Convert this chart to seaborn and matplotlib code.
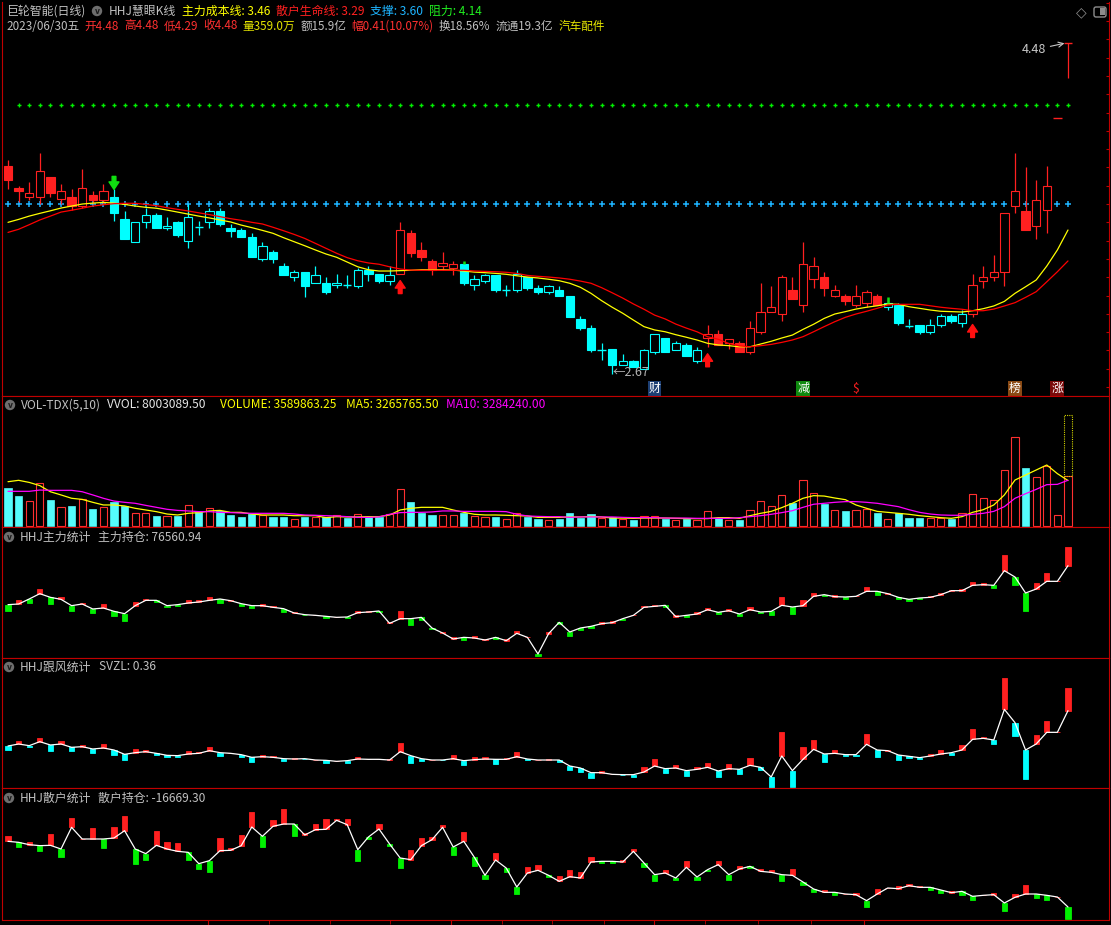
import numpy as np
import seaborn as sns
import matplotlib.pyplot as plt
from matplotlib.patches import Circle, FancyBboxPatch, Rectangle

# 巨轮智能 daily, last 101 sessions up to 2023/06/30
opens = [3.81, 3.69, 3.64, 3.64, 3.75, 3.63, 3.64, 3.59, 3.65, 3.62,
         3.64, 3.52, 3.39, 3.50, 3.54, 3.47, 3.50, 3.40, 3.48, 3.50,
         3.56, 3.47, 3.46, 3.42, 3.30, 3.34, 3.26, 3.20, 3.23, 3.17,
         3.17, 3.16, 3.16, 3.15, 3.24, 3.22, 3.18, 3.22, 3.44, 3.35,
         3.29, 3.26, 3.25, 3.27, 3.16, 3.18, 3.21, 3.13, 3.13, 3.20,
         3.14, 3.12, 3.13, 3.10, 2.97, 2.92, 2.80, 2.81, 2.72, 2.74,
         2.70, 2.79, 2.87, 2.80, 2.83, 2.74, 2.87, 2.89, 2.84, 2.84,
         2.79, 2.90, 3.01, 3.00, 3.13, 3.05, 3.19, 3.20, 3.10, 3.10,
         3.05, 3.06, 3.10, 3.04, 3.05, 2.94, 2.94, 2.90, 2.94, 2.99,
         2.95, 3.00, 3.18, 3.20, 3.23, 3.59, 3.56, 3.48, 3.57, 4.07,
         4.48]
highs = [3.84, 3.70, 3.72, 3.88, 3.75, 3.71, 3.68, 3.79, 3.67, 3.71,
         3.68, 3.56, 3.50, 3.58, 3.55, 3.53, 3.51, 3.60, 3.51, 3.58,
         3.58, 3.49, 3.47, 3.44, 3.39, 3.35, 3.28, 3.24, 3.23, 3.26,
         3.20, 3.22, 3.21, 3.25, 3.26, 3.22, 3.26, 3.50, 3.46, 3.39,
         3.30, 3.34, 3.29, 3.28, 3.21, 3.22, 3.21, 3.16, 3.24, 3.20,
         3.16, 3.16, 3.15, 3.10, 2.99, 2.94, 2.84, 2.81, 2.78, 2.75,
         2.81, 2.89, 2.87, 2.85, 2.84, 2.82, 2.94, 2.91, 2.86, 2.85,
         2.96, 3.17, 3.15, 3.21, 3.20, 3.39, 3.31, 3.23, 3.16, 3.11,
         3.16, 3.13, 3.11, 3.08, 3.06, 2.97, 2.94, 2.97, 3.00, 3.00,
         3.02, 3.22, 3.26, 3.32, 3.55, 3.88, 3.80, 3.73, 3.81, 4.07,
         4.48]
lows = [3.68, 3.61, 3.62, 3.60, 3.64, 3.60, 3.57, 3.58, 3.60, 3.60,
        3.51, 3.41, 3.39, 3.47, 3.47, 3.46, 3.42, 3.36, 3.43, 3.47,
        3.48, 3.42, 3.42, 3.31, 3.29, 3.28, 3.21, 3.18, 3.09, 3.17,
        3.11, 3.14, 3.14, 3.14, 3.18, 3.17, 3.16, 3.22, 3.31, 3.29,
        3.21, 3.24, 3.21, 3.16, 3.13, 3.17, 3.12, 3.10, 3.12, 3.13,
        3.11, 3.11, 3.10, 2.98, 2.91, 2.79, 2.75, 2.67, 2.72, 2.71,
        2.70, 2.78, 2.79, 2.80, 2.77, 2.73, 2.82, 2.83, 2.81, 2.79,
        2.78, 2.89, 3.01, 2.96, 3.08, 3.01, 3.14, 3.10, 3.09, 3.05,
        3.04, 3.04, 3.05, 3.02, 2.94, 2.92, 2.89, 2.89, 2.93, 2.95,
        2.93, 2.98, 3.14, 3.18, 3.15, 3.55, 3.46, 3.41, 3.44, 4.07,
        4.29]
closes = [3.73, 3.67, 3.66, 3.78, 3.66, 3.67, 3.59, 3.69, 3.62, 3.67,
          3.55, 3.41, 3.50, 3.54, 3.47, 3.48, 3.43, 3.53, 3.475, 3.56,
          3.49, 3.45, 3.42, 3.31, 3.37, 3.30, 3.21, 3.23, 3.15, 3.21,
          3.12, 3.17, 3.155, 3.24, 3.22, 3.18, 3.21, 3.46, 3.33, 3.31,
          3.24, 3.28, 3.27, 3.17, 3.19, 3.21, 3.13, 3.13, 3.22, 3.14,
          3.12, 3.15, 3.10, 2.98, 2.92, 2.80, 2.80, 2.72, 2.74, 2.71,
          2.80, 2.89, 2.79, 2.84, 2.77, 2.80, 2.89, 2.83, 2.86, 2.79,
          2.92, 3.01, 3.04, 3.20, 3.08, 3.27, 3.26, 3.14, 3.13, 3.07,
          3.10, 3.12, 3.05, 3.06, 2.95, 2.935, 2.90, 2.94, 2.99, 2.96,
          3.00, 3.16, 3.20, 3.23, 3.55, 3.67, 3.46, 3.62, 3.70, 4.07,
          4.48]

# 主力成本线 (yellow) / 散户生命线 (red)
ma_cost = [3.500, 3.516, 3.534, 3.549, 3.563, 3.578, 3.589, 3.600, 3.605, 3.609,
           3.605, 3.598, 3.589, 3.582, 3.577, 3.567, 3.556, 3.545, 3.534, 3.524,
           3.513, 3.502, 3.485, 3.471, 3.456, 3.440, 3.416, 3.394, 3.372, 3.349,
           3.327, 3.309, 3.283, 3.257, 3.241, 3.234, 3.234, 3.236, 3.238, 3.241,
           3.241, 3.241, 3.239, 3.234, 3.228, 3.225, 3.221, 3.216, 3.208, 3.201,
           3.196, 3.189, 3.181, 3.167, 3.145, 3.112, 3.072, 3.036, 3.003, 2.966,
           2.930, 2.912, 2.902, 2.886, 2.872, 2.857, 2.839, 2.830, 2.826, 2.820,
           2.820, 2.835, 2.850, 2.868, 2.884, 2.915, 2.943, 2.975, 2.999, 3.012,
           3.026, 3.036, 3.044, 3.054, 3.052, 3.039, 3.030, 3.021, 3.014, 3.012,
           3.010, 3.017, 3.028, 3.043, 3.068, 3.112, 3.148, 3.185, 3.261, 3.349,
           3.458]
ma_life = [3.445, 3.462, 3.487, 3.513, 3.534, 3.556, 3.566, 3.577, 3.589, 3.596,
           3.602, 3.604, 3.604, 3.598, 3.591, 3.580, 3.571, 3.562, 3.552, 3.542,
           3.531, 3.520, 3.511, 3.500, 3.491, 3.473, 3.454, 3.434, 3.412, 3.385,
           3.358, 3.331, 3.307, 3.290, 3.278, 3.271, 3.257, 3.245, 3.239, 3.238,
           3.238, 3.238, 3.238, 3.238, 3.234, 3.232, 3.230, 3.227, 3.221, 3.210,
           3.205, 3.201, 3.196, 3.189, 3.179, 3.167, 3.143, 3.115, 3.086, 3.054,
           3.025, 2.993, 2.972, 2.944, 2.922, 2.902, 2.875, 2.861, 2.838, 2.825,
           2.820, 2.826, 2.833, 2.844, 2.857, 2.875, 2.902, 2.930, 2.957, 2.981,
           2.999, 3.014, 3.030, 3.048, 3.052, 3.052, 3.052, 3.044, 3.036, 3.030,
           3.025, 3.017, 3.017, 3.026, 3.043, 3.061, 3.090, 3.121, 3.175, 3.230,
           3.289]
support = 3.60
resistance = 4.14
buy_idx = [37, 66, 91]
sell_idx = [10, 43, 83]
event_idx = [61, 75, 80, 95, 99]
event_txt = ['财', '减', '$', '榜', '涨']

# volume, 万股
volume = [272.8, 215.4, 177.1, 306.3, 186.7, 134.0, 143.6, 191.4, 122.0, 138.8,
          174.7, 143.6, 90.9, 90.9, 71.8, 69.4, 71.8, 148.4, 102.9, 126.8,
          110.1, 79.0, 62.2, 86.1, 79.0, 62.2, 64.6, 47.9, 67.0, 67.0,
          62.2, 76.6, 57.4, 86.1, 62.2, 62.2, 83.8, 263.2, 172.3, 95.7,
          79.0, 79.0, 79.0, 90.9, 71.8, 62.2, 67.0, 47.9, 90.9, 67.0,
          52.6, 43.1, 52.6, 93.3, 59.8, 86.1, 55.0, 64.6, 47.9, 43.1,
          69.4, 69.4, 52.6, 40.7, 52.6, 40.7, 105.3, 55.0, 40.7, 43.1,
          112.5, 177.1, 141.2, 220.2, 165.1, 327.8, 234.5, 157.9, 112.5, 105.3,
          112.5, 119.7, 93.3, 47.9, 90.9, 57.4, 57.4, 55.0, 55.0, 52.6,
          90.9, 227.3, 198.6, 184.3, 399.6, 636.5, 416.4, 349.4, 430.7, 76.6,
          359.0]
vol_ma5 = [318, 328, 313, 290, 246, 223, 199, 191, 170, 151,
           151, 144, 127, 115, 103, 86, 79, 91, 96, 108,
           112, 98, 98, 86, 79, 79, 79, 74, 74, 74,
           60, 67, 65, 65, 67, 67, 79, 115, 127, 134,
           134, 134, 115, 98, 84, 79, 79, 77, 74, 72,
           62, 62, 62, 65, 65, 69, 65, 57, 57, 55,
           57, 57, 57, 55, 53, 53, 53, 60, 60, 55,
           74, 91, 105, 132, 163, 199, 218, 215, 201, 189,
           151, 127, 105, 98, 91, 84, 74, 67, 60, 55,
           67, 98, 117, 151, 223, 330, 366, 402, 438, 376,
           326.6]
vol_ma10 = [249, 249, 249, 258, 256, 256, 256, 246, 223, 199,
            179, 170, 163, 148, 134, 120, 112, 108, 103, 103,
            98, 96, 93, 91, 91, 91, 91, 86, 79, 77,
            74, 72, 67, 62, 62, 65, 84, 96, 98, 98,
            101, 108, 108, 105, 105, 105, 105, 103, 84, 72,
            69, 67, 67, 62, 65, 65, 65, 65, 62, 60,
            60, 60, 57, 57, 57, 55, 55, 55, 55, 60,
            67, 74, 84, 96, 110, 134, 156, 163, 170, 175,
            175, 170, 163, 151, 139, 117, 98, 86, 79, 77,
            77, 84, 91, 105, 139, 199, 232, 263, 297, 299,
            328.4]
vvol = 800.31

# HHJ主力统计 (千)
main_hold = [-40.4, -38.4, -23.4, -7.4, -18.4, -24.4, -43.4, -38.4, -53.4, -50.4,
             -60.4, -67.4, -43.4, -27.4, -27.4, -43.4, -40.4, -35.4, -32.4, -27.4,
             -23.4, -28.4, -37.4, -43.4, -43.4, -48.4, -52.4, -65.4, -70.4, -72.4,
             -75.4, -78.4, -77.4, -64.4, -62.4, -59.4, -96.4, -82.4, -82.4, -78.4,
             -110.4, -125.4, -143.4, -138.4, -140.4, -146.4, -138.4, -148.4, -126.4, -138.4,
             -188.4, -127.4, -93.4, -122.4, -110.4, -105.4, -97.4, -94.4, -82.4, -72.4,
             -48.4, -45.4, -42.4, -76.4, -72.4, -68.4, -55.4, -63.4, -58.4, -68.4,
             -55.4, -62.4, -60.4, -42.4, -47.4, -43.4, -15.4, -10.4, -16.4, -17.4,
             -15.4, -0.4, -0.4, -7.4, -18.4, -24.4, -20.4, -18.4, -10.4, 1.6,
             1.6, 17.6, 19.6, 17.6, 61.6, 42.6, -5.4, 6.6, 29.6, 29.6,
             76.56]
main_chg = [-18, 13, -12, 14, -19, 7, -15, 3, -13, 12,
            -13, -21, 11, 4, -6, -5, -3, 9, 5, 10,
            -11, 1, -6, -8, 4, 4, -11, 4, -2, 2,
            -6, 2, -4, 4, 2, -4, 4, 22, -20, -7,
            -3, 2, 5, -9, 5, 3, -4, 5, 6, 2,
            -6, 4, -5, -12, -7, -5, 5, 4, -4, 2,
            5, 5, -6, 4, -6, 5, 5, -5, 6, -7,
            8, -4, -12, 25, -20, 16, 9, -5, 4, -5,
            2, 12, -10, 2, -6, -5, -4, 4, 4, 2,
            5, 10, 4, -8, 48, -25, -53, 18, 25, 2,
            56]

# HHJ跟风统计 SVZL
follow_svzl = [-0.70, -0.64, -0.69, -0.57, -0.67, -0.64, -0.74, -0.72, -0.79, -0.76,
               -0.82, -0.95, -0.90, -0.87, -0.92, -0.98, -0.99, -0.94, -0.92, -0.84,
               -0.90, -0.92, -0.96, -1.04, -1.02, -1.04, -1.08, -1.09, -1.08, -1.12,
               -1.13, -1.16, -1.14, -1.09, -1.10, -1.10, -1.12, -0.87, -0.99, -1.08,
               -1.12, -1.12, -1.08, -1.14, -1.11, -1.09, -1.10, -1.10, -1.02, -1.09,
               -1.12, -1.12, -1.12, -1.30, -1.36, -1.50, -1.50, -1.55, -1.56, -1.56,
               -1.48, -1.30, -1.38, -1.36, -1.44, -1.40, -1.34, -1.45, -1.38, -1.40,
               -1.28, -1.34, -1.63, -1.00, -1.44, -1.10, -0.80, -0.94, -0.92, -0.96,
               -0.96, -0.65, -0.82, -0.84, -0.97, -1.01, -1.05, -1.00, -0.94, -0.90,
               -0.82, -0.50, -0.47, -0.52, 0.40, 0.00, -0.82, -0.64, -0.29, -0.29,
               0.36]
follow_chg = [-0.12, 0.09, -0.03, 0.11, -0.17, 0.09, -0.10, 0.04, -0.11, 0.12,
              -0.14, -0.17, 0.11, 0.05, -0.06, -0.05, -0.03, 0.09, 0.05, 0.10,
              -0.10, 0.01, -0.07, -0.13, 0.05, 0.03, -0.08, 0.04, -0.01, 0.01,
              -0.07, 0.01, -0.06, 0.05, 0.02, 0.01, 0.04, 0.25, -0.21, -0.08,
              0.01, -0.01, 0.11, -0.14, 0.08, 0.05, -0.14, 0.05, 0.14, -0.03,
              0.01, 0.03, -0.06, -0.13, -0.12, -0.15, 0.05, 0.01, -0.01, -0.06,
              0.14, 0.21, -0.12, 0.09, -0.15, 0.07, 0.12, -0.17, 0.14, -0.13,
              0.21, -0.08, -0.33, 0.73, -0.48, 0.36, 0.28, -0.23, 0.10, -0.03,
              -0.04, 0.31, -0.20, 0.01, -0.15, -0.04, -0.03, 0.05, 0.12, -0.06,
              0.15, 0.31, 0.03, -0.13, 0.94, -0.40, -0.88, 0.27, 0.34, 0.01,
              0.68]

# HHJ散户统计 (千)
retail_hold = [180.3, 177.3, 170.3, 167.3, 168.3, 157.3, 222.3, 187.3, 187.3, 187.3,
               190.3, 212.3, 157.3, 143.3, 168.3, 157.3, 150.3, 147.3, 113.3, 122.3,
               152.3, 153.3, 167.3, 223.3, 195.3, 225.3, 232.3, 232.3, 199.3, 215.3,
               216.3, 243.3, 230.3, 155.3, 193.3, 217.3, 172.3, 130.3, 125.3, 167.3,
               185.3, 222.3, 163.3, 180.3, 132.3, 78.3, 124.3, 100.3, 43.3, 85.3,
               93.3, 78.3, 60.3, 74.3, 70.3, 118.3, 120.3, 120.3, 118.3, 150.3,
               115.3, 80.3, 85.3, 70.3, 102.3, 73.3, 95.3, 110.3, 80.3, 97.3,
               105.3, 90.3, 87.3, 80.3, 78.3, 58.3, 37.3, 27.3, 27.3, 22.3,
               20.3, 2.3, 22.3, 40.3, 38.3, 47.3, 42.3, 42.3, 34.3, 26.3,
               30.3, 15.3, 18.3, 20.3, -4.7, 12.3, 22.3, 22.3, 18.3, 13.3,
               -16.67]
retail_chg = [15, -15, 8, -17, 34, -24, 28, 1, 33, -27,
              33, 44, -44, -18, 44, 21, 25, -22, -15, -33,
              38, 7, 33, 45, -32, 19, 45, -35, 6, 17,
              31, 4, 17, -33, -5, 15, -5, -30, 29, 23,
              7, 8, -23, 28, -26, -10, 21, -12, -21, 17,
              16, -6, 15, 20, 18, 14, -4, -4, 7, 6,
              -13, -18, 10, -6, 20, -8, -5, 12, -15, 10,
              -6, 8, 8, -18, 19, -8, -9, 6, -7, 1,
              4, -19, 15, 1, 9, 5, 5, -7, -10, 4,
              -10, -10, 1, 5, -23, 10, 26, -12, -13, 1,
              -35]

# quote line under the title
quote_txt = ['2023/06/30五', '开4.48', '高4.48', '低4.29', '收4.48', '量359.0万',
             '额15.9亿', '幅0.41(10.07%)', '换18.56%', '流通19.3亿', '汽车配件']

RED = '#ff2020'
CYAN = '#00ffff'
VCYAN = '#54fcfc'
GREEN = '#00f000'
EDGE = '#c00000'
GRAY = '#c0c0c0'
YEL = '#ffff00'
MAG = '#ff00ff'

W, H = 1111, 925
sns.set_style('dark', {'axes.facecolor': 'black', 'figure.facecolor': 'black'})
plt.rcParams['font.family'] = ['Noto Sans CJK SC', 'DejaVu Sans']

fig = plt.figure(figsize=(W / 100, H / 100), dpi=100)
fig.patch.set_facecolor('black')


def panel(top, bottom):
    ax = fig.add_axes([2 / W, 1 - bottom / H, 1107 / W, (bottom - top) / H])
    ax.set_facecolor('black')
    ax.set_xlim(-0.566, 103.87)
    ax.set_xticks([])
    ax.set_yticks([])
    ax.grid(False)
    for s in ax.spines.values():
        s.set_color(EDGE)
        s.set_linewidth(0.8)
    return ax


def ftext(x, y, s, color, size=8.6, **kw):
    return fig.text(x / W, 1 - y / H, s, color=color, fontsize=size, va='center', ha='left', **kw)


def icon(xc, yc):
    fig.add_artist(Circle((xc / 100, (H - yc) / 100), 0.052, transform=fig.dpi_scale_trans,
                          facecolor='#6e6e6e', edgecolor='none'))
    fig.text(xc / W, 1 - (yc + 0.5) / H, 'v', color='#1c1c1c', fontsize=5.5, ha='center',
             va='center', fontweight='bold', family='DejaVu Sans')


x = np.arange(len(closes))
o, h, l, c = (np.array(v, dtype=float) for v in (opens, highs, lows, closes))

# ---------------- main K-line panel ----------------
ax = panel(2, 396)
ax.spines['top'].set_visible(False)
ax.set_ylim(2.551, 4.704)
ax.yaxis.tick_right()
ax.set_yticks(np.arange(2.6, 4.71, 0.1))
ax.tick_params(axis='y', right=True, left=False, length=2.5, color=EDGE, direction='in', labelright=False)

ax.plot(x, np.full(len(x), support), '+', color='#1eb4ff', ms=4, mew=1.1, zorder=1)
ax.plot(x[1:], np.full(len(x) - 1, resistance), '+', color=GREEN, ms=3.5, mew=1.0, zorder=1)

state = []
cur = 'up'
for i in x:
    if i in sell_idx:
        cur = 'dn'
    if i in buy_idx:
        cur = 'up'
    state.append(cur)
kcol = np.array([RED if s == 'up' else CYAN for s in state])
top = np.maximum(o, c)
bot = np.minimum(o, c)
doji = np.abs(c - o) < 0.006
ax.vlines(x, top, h, colors=kcol, lw=0.9, zorder=3)
ax.vlines(x, l, bot, colors=kcol, lw=0.9, zorder=3)
face = np.array([kc if cc < oo else 'black' for kc, oo, cc in zip(kcol, o, c)])
nb = ~doji
ax.bar(x[nb], (top - bot)[nb], bottom=bot[nb], width=0.78, color=face[nb],
       edgecolor=kcol[nb], linewidth=0.8, zorder=4)
ax.hlines(c[doji], x[doji] - 0.39, x[doji] + 0.39, colors=kcol[doji], lw=1.0, zorder=4)

sns.lineplot(x=x, y=ma_cost, ax=ax, color=YEL, linewidth=0.9, legend=False, zorder=5)
sns.lineplot(x=x, y=ma_life, ax=ax, color='#ff0000', linewidth=0.9, legend=False, zorder=5)
ax.set_xlim(-0.566, 103.87)
ax.set_ylim(2.551, 4.704)
ax.set_xlabel('')
ax.set_ylabel('')

px = 1 / 183.0
for i in buy_idx:
    ax.annotate('', xy=(i, l[i] - 7 * px), xytext=(i, l[i] - 20 * px),
                arrowprops=dict(arrowstyle='simple,head_length=0.6,head_width=0.8,tail_width=0.3',
                                color='#ff1010', shrinkA=0, shrinkB=0, mutation_scale=9), zorder=6)
first_sell = sell_idx[0]
ax.annotate('', xy=(first_sell, h[first_sell]), xytext=(first_sell, h[first_sell] + 13 * px),
            arrowprops=dict(arrowstyle='simple,head_length=0.6,head_width=0.8,tail_width=0.3',
                            color='#10e010', shrinkA=0, shrinkB=0, mutation_scale=9), zorder=6)
for i in sell_idx[1:]:
    ax.vlines(i, top[i], h[i] + 2 * px, colors='#10e010', lw=1.8, zorder=6)

low_i = int(np.argmin(l))
ax.text(low_i, l[low_i] + 1.5 * px, '←' + f'{l[low_i]:.2f}', color='#b4b4b4', fontsize=9,
        ha='left', va='center', zorder=7)
ax.annotate(f'{c[-1]:.2f}', xy=(x[-1] - 0.2, h[-1]), xytext=(95.6, h[-1] - 7 * px),
            color='#c8c8c8', fontsize=9, ha='left', va='center',
            arrowprops=dict(arrowstyle='->', color='#c8c8c8', lw=0.8, shrinkA=1, shrinkB=1))

ev_style = {'财': ('white', '#1d3f73'), '减': ('white', '#0f8a0f'), '$': ('#ff2020', None),
            '榜': ('white', '#8a4a14'), '涨': ('white', '#7a0a0a')}
for i, t in zip(event_idx, event_txt):
    fg, bg = ev_style[t]
    kw = dict(bbox=dict(boxstyle='square,pad=0.08', fc=bg, ec='none')) if bg else {}
    ax.text(i, 0.02, t, transform=ax.get_xaxis_transform(), color=fg, fontsize=8.6,
            ha='center', va='center', zorder=7, **kw)

# ---------------- volume panel ----------------
axv = panel(396, 527)
v = np.array(volume)
up = c >= o
axv.bar(x[up], v[up], width=0.68, color='black', edgecolor='#ff3030', linewidth=0.8, zorder=2)
axv.bar(x[~up], v[~up], width=0.68, color=VCYAN, edgecolor=VCYAN, linewidth=0.5, zorder=2)
axv.bar(x[-1], vvol - v[-1], bottom=v[-1], width=0.68, fill=False, edgecolor='#d2d200',
        linestyle=(0, (1, 1)), linewidth=0.8, zorder=2)
sns.lineplot(x=x, y=vol_ma5, ax=axv, color=YEL, linewidth=0.9, legend=False, zorder=3)
sns.lineplot(x=x, y=vol_ma10, ax=axv, color=MAG, linewidth=0.9, legend=False, zorder=3)
axv.set_xlim(-0.566, 103.87)
axv.set_ylim(-7.2, 933.4)
axv.set_xlabel('')
axv.set_ylabel('')


# ---------------- indicator panels ----------------
def stat_panel(top_px, bottom_px, ylim, line, chg, down_col):
    a = panel(top_px, bottom_px)
    line = np.array(line, dtype=float)
    chg = np.array(chg, dtype=float)
    cols = [RED if d > 0 else down_col for d in chg]
    a.bar(x, chg, bottom=line, width=0.5, color=cols, edgecolor=cols, linewidth=0.6, zorder=2)
    sns.lineplot(x=x, y=line, ax=a, color='white', linewidth=0.9, legend=False, zorder=3)
    a.set_xlim(-0.566, 103.87)
    a.set_ylim(*ylim)
    a.set_xlabel('')
    a.set_ylabel('')
    return a


stat_panel(527, 658, (-200.4, 192.6), main_hold, main_chg, GREEN)
stat_panel(658, 788, (-1.96, 1.94), follow_svzl, follow_chg, CYAN)
ax5 = stat_panel(788, 920, (-55.7, 340.3), retail_hold, retail_chg, GREEN)
ax5.set_xticks([18.9, 41.8, 60.9, 80.8])
ax5.set_xticks([24.6, 30.4, 36.0, 46.6, 51.3, 56.2, 65.8, 70.8, 75.8], minor=True)
ax5.tick_params(axis='x', which='major', bottom=True, length=5, color=EDGE, direction='out',
                labelbottom=False)
ax5.tick_params(axis='x', which='minor', bottom=True, length=3, color=EDGE, direction='out')

# ---------------- header texts ----------------
ftext(6, 11, '巨轮智能(日线)', GRAY)
icon(97, 11)
ftext(109, 11, 'HHJ慧眼K线', GRAY)
ftext(182, 11, '主力成本线: 3.46', YEL)
ftext(276, 11, '散户生命线: 3.29', '#ff2020')
ftext(370, 11, '支撑: 3.60', '#1eb4ff')
ftext(429, 11, '阻力: 4.14', '#20f020')

# quote line: segments laid out one after another
quote_col = [GRAY, '#ff3030', '#ff3030', '#ff3030', '#ff3030', '#e6e600',
             GRAY, '#ff3030', GRAY, GRAY, '#e6e600']
renderer = fig.canvas.get_renderer()
xpos = 6.0
for s, col in zip(quote_txt, quote_col):
    t = ftext(xpos, 26, s, col, size=8.4)
    bb = t.get_window_extent(renderer=renderer)
    xpos = bb.x1 + 5.2

fig.text(1081 / W, 1 - 12 / H, '◇', color='#8c8c8c', fontsize=10, ha='center', va='center',
         family='DejaVu Sans')
fig.add_artist(FancyBboxPatch((1094 / 100, (H - 17) / 100), 0.12, 0.10,
                              boxstyle='round,pad=0,rounding_size=0.02',
                              transform=fig.dpi_scale_trans, fill=False, edgecolor='#8c8c8c', lw=1.0))
fig.add_artist(Rectangle((1100 / 100, (H - 15.5) / 100), 0.045, 0.07, transform=fig.dpi_scale_trans,
                         facecolor='#8c8c8c', edgecolor='none'))

icon(10, 405)
ftext(21, 405, 'VOL-TDX(5,10)', GRAY)
ftext(107, 405, 'VVOL: 8003089.50', '#e6e6e6')
ftext(220, 405, 'VOLUME: 3589863.25', YEL)
ftext(346, 405, 'MA5: 3265765.50', YEL)
ftext(446, 405, 'MA10: 3284240.00', MAG)

icon(9, 537)
ftext(20, 537, 'HHJ主力统计', GRAY)
ftext(98, 537, '主力持仓: 76560.94', GRAY)
icon(9, 667)
ftext(20, 667, 'HHJ跟风统计', GRAY)
ftext(99, 667, 'SVZL: 0.36', GRAY)
icon(9, 798)
ftext(20, 798, 'HHJ散户统计', GRAY)
ftext(98, 798, '散户持仓: -16669.30', GRAY)

fig.savefig('out.png', dpi=100, facecolor='black')
